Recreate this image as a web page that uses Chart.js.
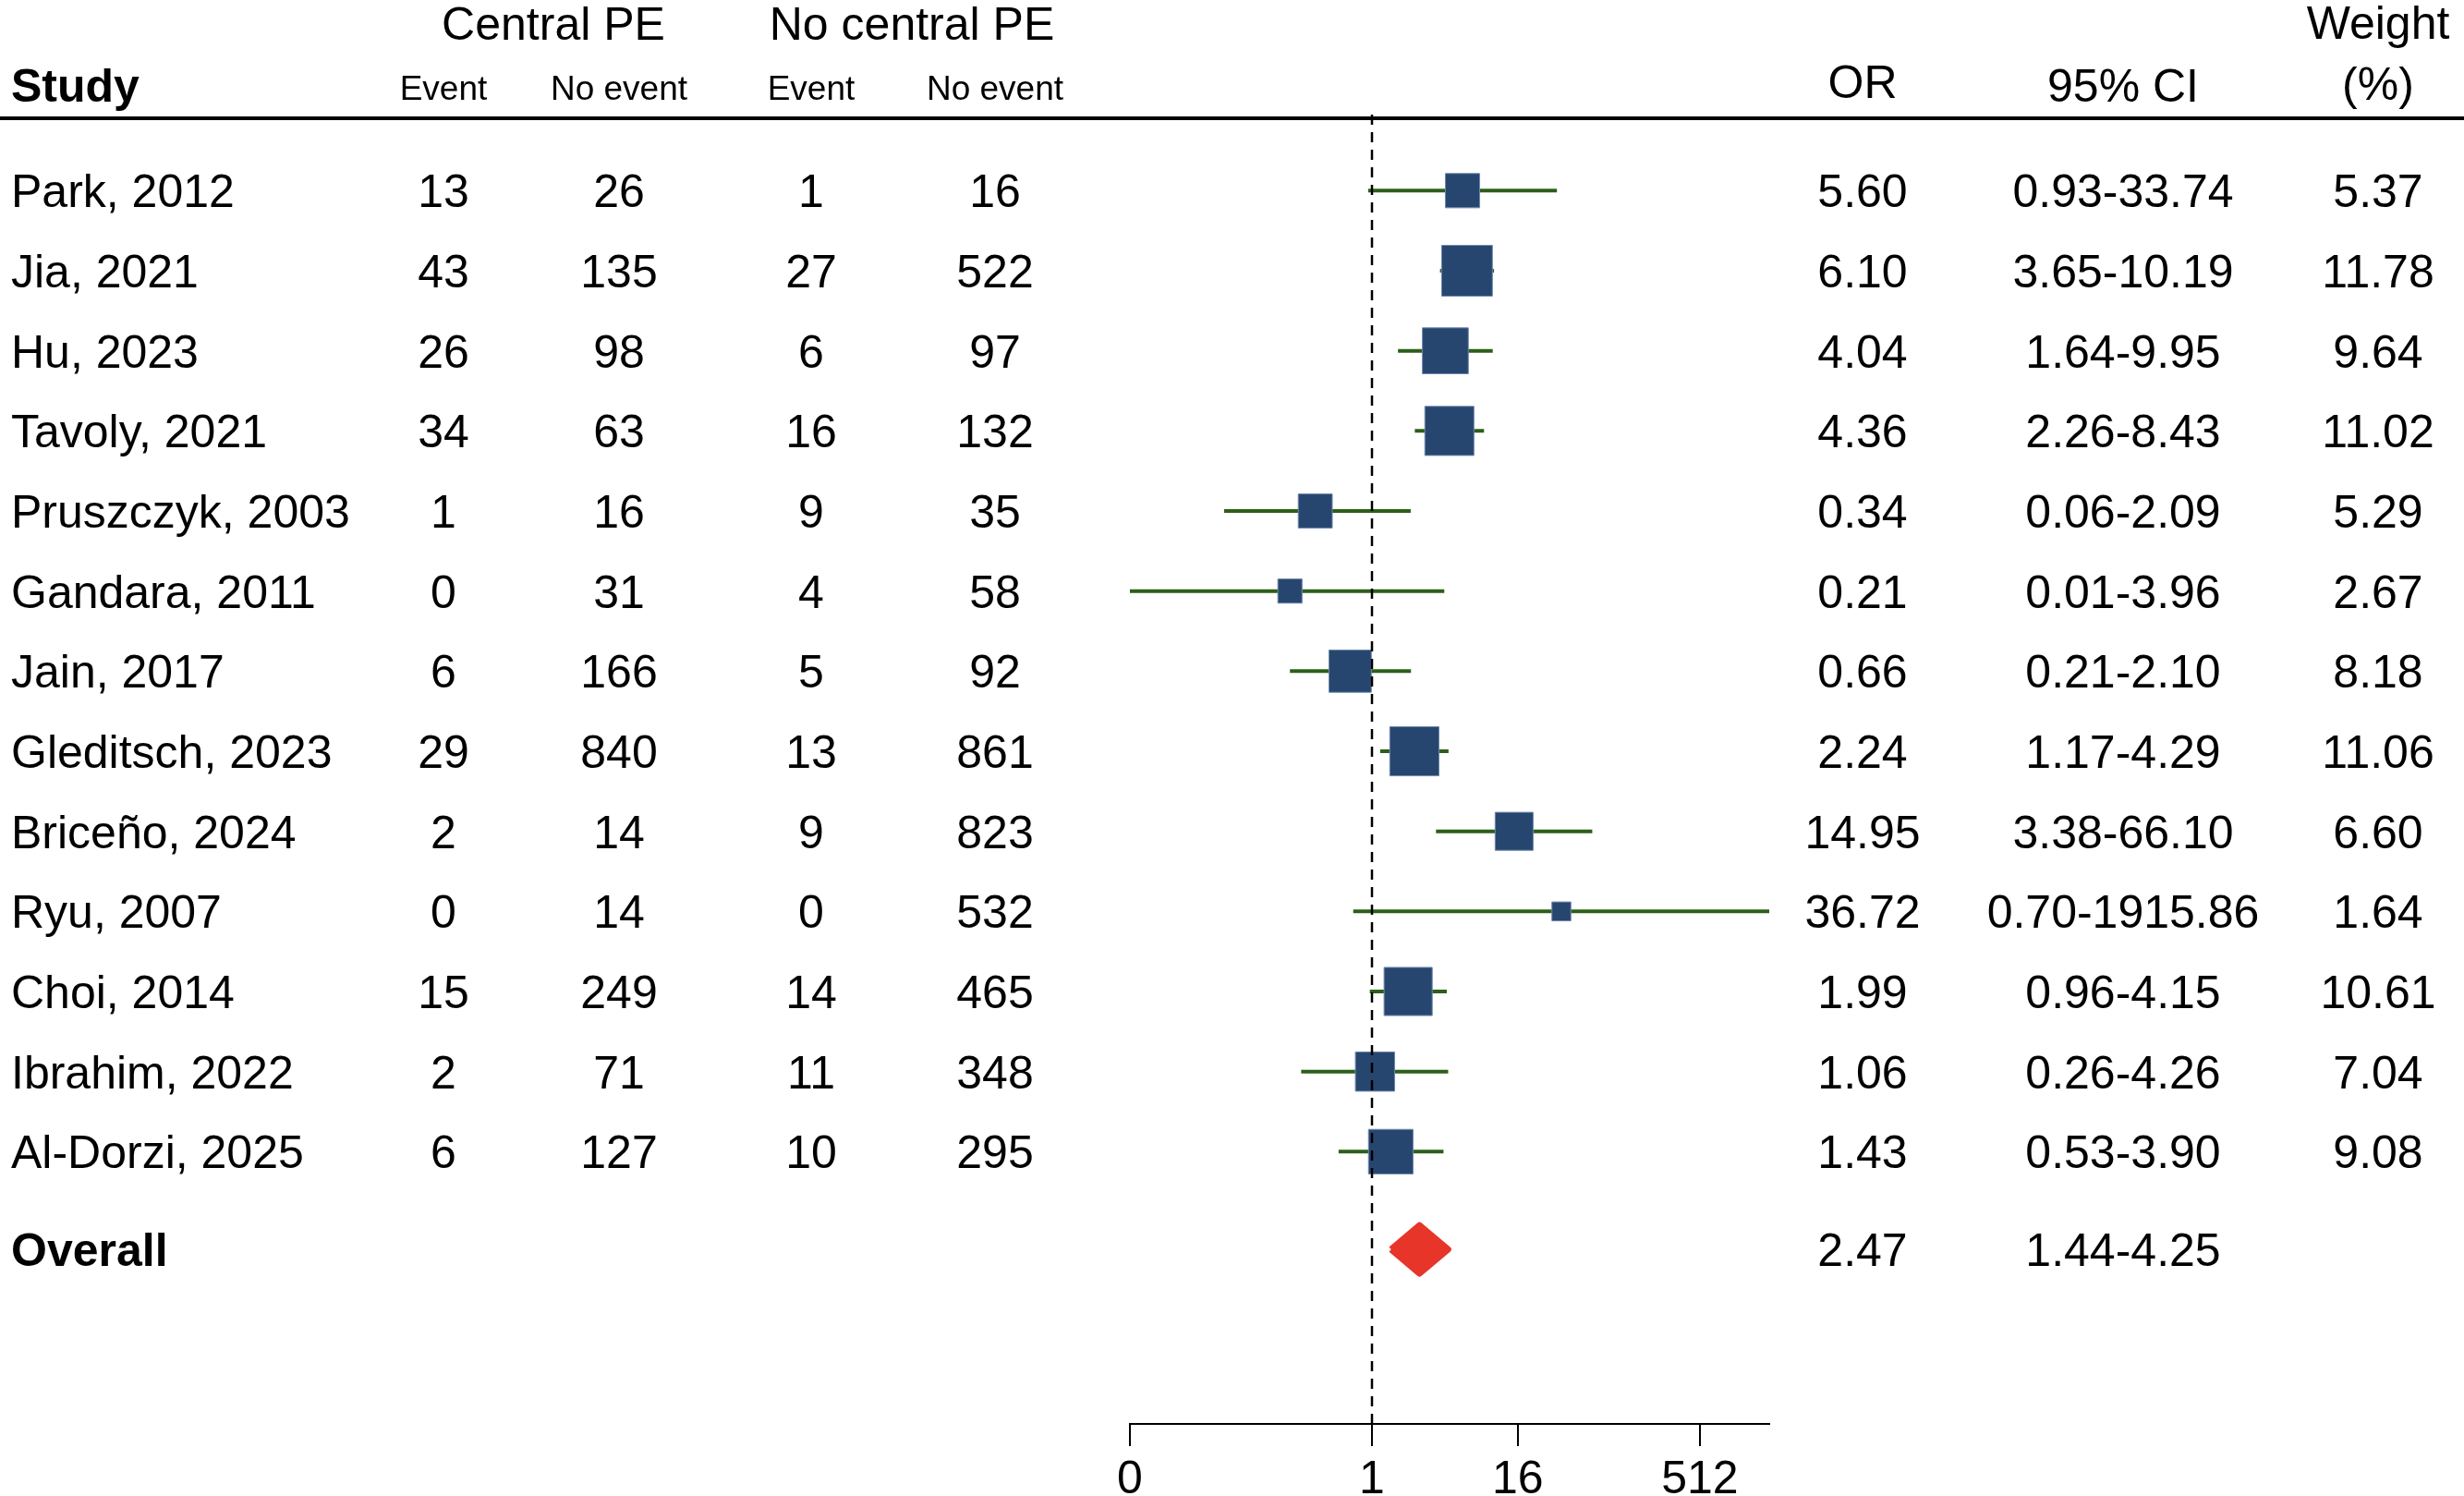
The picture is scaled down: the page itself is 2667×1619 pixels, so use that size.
<!DOCTYPE html>
<html>
<head>
<meta charset="utf-8">
<script src="https://cdn.jsdelivr.net/npm/chart.js@4.4.1/dist/chart.umd.min.js"></script>
<style>
  html, body { margin: 0; padding: 0; background: #fff; }
  #wrap { width: 2667px; height: 1619px; position: relative; }
</style>
</head>
<body>
<div id="wrap"><canvas id="forest"></canvas></div>
<script>
// ---- data ----
const studies = ['Park, 2012', 'Jia, 2021', 'Hu, 2023', 'Tavoly, 2021', 'Pruszczyk, 2003',
  'Gandara, 2011', 'Jain, 2017', 'Gleditsch, 2023', 'Briceño, 2024', 'Ryu, 2007',
  'Choi, 2014', 'Ibrahim, 2022', 'Al-Dorzi, 2025'];
const cpEvent    = [13, 43, 26, 34, 1, 0, 6, 29, 2, 0, 15, 2, 6];
const cpNoEvent  = [26, 135, 98, 63, 16, 31, 166, 840, 14, 14, 249, 71, 127];
const ncpEvent   = [1, 27, 6, 16, 9, 4, 5, 13, 9, 0, 14, 11, 10];
const ncpNoEvent = [16, 522, 97, 132, 35, 58, 92, 861, 823, 532, 465, 348, 295];
const oddsRatio  = [5.60, 6.10, 4.04, 4.36, 0.34, 0.21, 0.66, 2.24, 14.95, 36.72, 1.99, 1.06, 1.43];
const ciLow      = [0.93, 3.65, 1.64, 2.26, 0.06, 0.01, 0.21, 1.17, 3.38, 0.70, 0.96, 0.26, 0.53];
const ciHigh     = [33.74, 10.19, 9.95, 8.43, 2.09, 3.96, 2.10, 4.29, 66.10, 1915.86, 4.15, 4.26, 3.90];
const weights    = [5.37, 11.78, 9.64, 11.02, 5.29, 2.67, 8.18, 11.06, 6.60, 1.64, 10.61, 7.04, 9.08];
const overallOR  = 2.47;
const overallLow = 1.44;
const overallHigh = 4.25;
const xTicks      = [0.01, 1, 16, 512];
const xTickLabels = ['0', '1', '16', '512'];

// ---- layout ----
const FONT = "'Liberation Sans', Arial, Helvetica, sans-serif";
const yTop = -0.95, yBottom = 15.4;   // row units
const overallRow = 13.22;
const diamondHalf = 0.3;
const fmt2 = v => v.toFixed(2);

const cols = { cpE: 480, cpN: 670, ncpE: 878, ncpN: 1077, or: 2016, ci: 2298, w: 2574 };

// CI whiskers, one little line per study
const ciSets = studies.map((s, i) => ({
  label: 'ci ' + s,
  data: [{ x: ciLow[i], y: i }, { x: ciHigh[i], y: i }],
  showLine: true,
  borderColor: '#2c5f18',
  borderWidth: 4,
  pointRadius: 0,
  clip: false
}));

const tablePlugin = {
  id: 'tableText',
  afterDraw(chart) {
    const ctx = chart.ctx;
    const y = chart.scales.y;
    ctx.save();
    ctx.fillStyle = '#000';

    // header rule
    ctx.fillRect(0, 126, chart.width, 4);

    ctx.textBaseline = 'alphabetic';
    ctx.font = '50px ' + FONT;
    ctx.textAlign = 'center';
    ctx.fillText('Central PE', 599, 43);
    ctx.fillText('No central PE', 987, 43);
    ctx.fillText('Weight', cols.w, 42);
    ctx.fillText('OR', cols.or, 106);
    ctx.fillText('95% CI', cols.ci, 110);
    ctx.fillText('(%)', cols.w, 108);

    ctx.font = '37px ' + FONT;
    ctx.fillText('Event', cols.cpE, 108);
    ctx.fillText('No event', cols.cpN, 108);
    ctx.fillText('Event', cols.ncpE, 108);
    ctx.fillText('No event', cols.ncpN, 108);

    ctx.textAlign = 'left';
    ctx.font = 'bold 50px ' + FONT;
    ctx.fillText('Study', 12, 110);

    ctx.font = '50px ' + FONT;
    studies.forEach((s, i) => {
      const py = y.getPixelForValue(i) + 18;
      ctx.textAlign = 'left';
      ctx.fillText(s, 12, py);
      ctx.textAlign = 'center';
      ctx.fillText(String(cpEvent[i]), cols.cpE, py);
      ctx.fillText(String(cpNoEvent[i]), cols.cpN, py);
      ctx.fillText(String(ncpEvent[i]), cols.ncpE, py);
      ctx.fillText(String(ncpNoEvent[i]), cols.ncpN, py);
      ctx.fillText(fmt2(oddsRatio[i]), cols.or, py);
      ctx.fillText(fmt2(ciLow[i]) + '-' + fmt2(ciHigh[i]), cols.ci, py);
      ctx.fillText(fmt2(weights[i]), cols.w, py);
    });

    const oy = y.getPixelForValue(overallRow) + 18;
    ctx.textAlign = 'left';
    ctx.font = 'bold 50px ' + FONT;
    ctx.fillText('Overall', 12, oy);
    ctx.font = '50px ' + FONT;
    ctx.textAlign = 'center';
    ctx.fillText(fmt2(overallOR), cols.or, oy);
    ctx.fillText(fmt2(overallLow) + '-' + fmt2(overallHigh), cols.ci, oy);
    ctx.restore();
  }
};

const ctx = document.getElementById('forest').getContext('2d');
new Chart(ctx, {
  type: 'scatter',
  data: {
    datasets: [
      {
        label: 'null line',
        data: [{ x: 1, y: yTop }, { x: 1, y: yBottom }],
        showLine: true,
        borderColor: '#000',
        borderWidth: 2.5,
        borderDash: [11, 8],
        pointRadius: 0,
        clip: false
      },
      {
        label: 'OR',
        data: oddsRatio.map((v, i) => ({ x: v, y: i })),
        pointStyle: 'rect',
        pointRadius: weights.map(w => Math.sqrt(w) * 16 / Math.SQRT2),
        backgroundColor: '#27466f',
        borderColor: '#6f88ab',
        borderWidth: 1,
        clip: false
      },
      {
        label: 'Overall',
        data: [
          { x: overallLow, y: overallRow },
          { x: overallOR, y: overallRow - diamondHalf },
          { x: overallHigh, y: overallRow },
          { x: overallOR, y: overallRow + diamondHalf },
          { x: overallLow, y: overallRow }
        ],
        showLine: true,
        fill: 'shape',
        backgroundColor: '#e8352a',
        borderColor: '#e8352a',
        borderWidth: 7,
        borderJoinStyle: 'round',
        pointRadius: 0,
        clip: false
      },
      ...ciSets
    ]
  },
  options: {
    responsive: true,
    maintainAspectRatio: false,
    animation: false,
    layout: { padding: { left: 1223, right: 752, top: 124, bottom: 0 } },
    scales: {
      x: {
        type: 'logarithmic',
        min: 0.01,
        max: 1915.86,
        afterBuildTicks: (scale) => { scale.ticks = xTicks.map(v => ({ value: v })); },
        afterFit: (scale) => { scale.height = 78; },
        ticks: {
          autoSkip: false,
          maxRotation: 0,
          padding: 7,
          color: '#000',
          font: { size: 50, family: FONT },
          callback: (value) => xTickLabels[xTicks.indexOf(value)]
        },
        grid: {
          display: true,
          drawOnChartArea: false,
          drawTicks: true,
          tickLength: 24,
          color: '#000',
          lineWidth: 2
        },
        border: { display: true, color: '#000', width: 2 }
      },
      y: {
        type: 'linear',
        reverse: true,
        min: yTop,
        max: yBottom,
        display: false
      }
    },
    plugins: {
      legend: { display: false },
      tooltip: { enabled: false }
    }
  },
  plugins: [tablePlugin]
});
</script>
</body>
</html>
